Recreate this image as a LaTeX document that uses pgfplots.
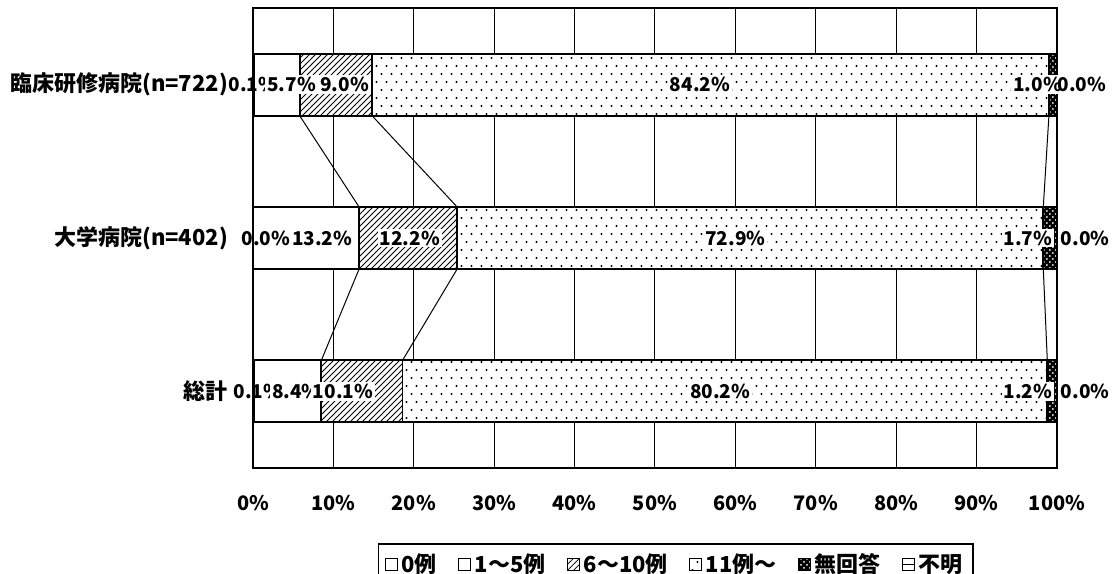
\documentclass[border=0pt]{standalone}
\usepackage{fontspec}
\setmainfont{Noto Sans CJK JP}
\usepackage{pgfplots}
\pgfplotsset{compat=1.18}
\usetikzlibrary{patterns}

% sparse staggered dots, like the Excel pattern
\pgfdeclarepatternformonly{xldots}{\pgfqpoint{0pt}{0pt}}{\pgfqpoint{5pt}{8pt}}{\pgfqpoint{5pt}{8pt}}{%
  \pgfpathcircle{\pgfqpoint{1.25pt}{2pt}}{0.55pt}
  \pgfpathcircle{\pgfqpoint{3.75pt}{6pt}}{0.55pt}
  \pgfusepath{fill}}

\tikzset{
  lbl/.style={font=\bfseries\fontsize{9.5}{11}\selectfont, inner sep=1pt},
  wlbl/.style={lbl, fill=white},
  sline/.style={black, line width=0.5pt, mark=none},
}

\begin{document}
\begin{tikzpicture}
\begin{axis}[
  name=ax,
  scale only axis, width=402pt, height=230pt,
  xbar stacked, bar width=31pt,
  xmin=0, xmax=100, ymin=0.5, ymax=3.5,
  xtick={0,10,...,100},
  xticklabels={0\%,10\%,20\%,30\%,40\%,50\%,60\%,70\%,80\%,90\%,100\%},
  ytick={1,2,3},
  yticklabels={総計,大学病院(n=402),臨床研修病院(n=722)},
  major tick length=0pt,
  xmajorgrids, grid style={black, line width=0.5pt},
  axis line style={black, line width=1pt},
  xticklabel style={font=\bfseries\fontsize{10}{12}\selectfont},
  yticklabel style={font=\bfseries\fontsize{11}{13}\selectfont},
  xticklabel shift=10pt, yticklabel shift=9pt,
  /pgf/number format/assume math mode=true,
  clip=false,
  every axis plot/.append style={draw=black, line width=0.9pt},
  legend columns=6,
  legend style={at={(rel axis cs:0.155,-0.163)}, anchor=north west,
    draw=black, line width=0.9pt, font=\bfseries\fontsize{11}{13}\selectfont,
    /tikz/every even column/.append style={column sep=8.5pt},
    /tikz/every odd column/.append style={column sep=0pt},
    inner ysep=3pt, inner xsep=3pt},
  legend image code/.code={\draw[#1, line width=0.5pt] (0pt,-3pt) rectangle (6pt,3pt);},
]
% rows: 1 = 総計, 2 = 大学病院, 3 = 臨床研修病院
\addplot[fill=white] coordinates {(0.1,3) (0.0,2) (0.1,1)};
\addlegendentry{0例}
\addplot[fill=white] coordinates {(5.7,3) (13.2,2) (8.4,1)};
\addlegendentry{1～5例}
\addplot[fill=white, postaction={pattern=north east lines}] coordinates {(9.0,3) (12.2,2) (10.1,1)};
\addlegendentry{6～10例}
\addplot[fill=white, postaction={pattern=xldots}] coordinates {(84.2,3) (72.9,2) (80.2,1)};
\addlegendentry{11例～}
\addplot[fill=black, postaction={pattern=crosshatch dots, pattern color=white}] coordinates {(1.0,3) (1.7,2) (1.2,1)};
\addlegendentry{無回答}
\addplot[fill=white, legend image code/.code={%
    \draw[draw=black, fill=white, line width=0.5pt] (0pt,-3pt) rectangle (6pt,3pt);
    \draw[draw=black, line width=0.5pt] (0pt,0pt) -- (6pt,0pt);}]
  coordinates {(0.0,3) (0.0,2) (0.0,1)};
\addlegendentry{不明}

\coordinate (bbsw) at (rel axis cs:-0.3147,-0.2304);
\coordinate (bbne) at (rel axis cs:1.0697,1.0174);
\end{axis}

% overlay: series lines between the bars and the data labels
\begin{axis}[
  scale only axis, width=402pt, height=230pt,
  xmin=0, xmax=100, ymin=0.5, ymax=3.5,
  hide axis, clip=false,
  unbounded coords=jump,
]
\addplot[sline] coordinates {(5.8,2.798) (13.2,2.202) (13.2,nan) (13.2,1.798) (8.5,1.202)};
\addplot[sline] coordinates {(14.8,2.798) (25.4,2.202) (25.4,nan) (25.4,1.798) (18.6,1.202)};
\addplot[sline] coordinates {(99.0,2.798) (98.3,2.202) (98.3,nan) (98.3,1.798) (98.8,1.202)};
\addplot[sline] coordinates {(100,2.798) (100,2.202) (100,nan) (100,1.798) (100,1.202)};

\node[lbl]  at (axis cs:0,3) {0.1\%};
\node[wlbl] at (axis cs:4.8,3) {5.7\%};
\node[wlbl] at (axis cs:11.4,3) {9.0\%};
\node[wlbl] at (axis cs:55.6,3) {84.2\%};
\node[wlbl] at (axis cs:97.6,3) {1.0\%};
\node[lbl]  at (axis cs:103.1,3) {0.0\%};

\node[lbl]  at (axis cs:1.6,2) {0.0\%};
\node[wlbl] at (axis cs:8.6,2) {13.2\%};
\node[wlbl] at (axis cs:19.5,2) {12.2\%};
\node[wlbl] at (axis cs:60.0,2) {72.9\%};
\node[wlbl] at (axis cs:96.4,2) {1.7\%};
\node[lbl]  at (axis cs:103.5,2) {0.0\%};

\node[lbl]  at (axis cs:0.6,1) {0.1\%};
\node[wlbl] at (axis cs:5.4,1) {8.4\%};
\node[wlbl] at (axis cs:11.2,1) {10.1\%};
\node[wlbl] at (axis cs:58.1,1) {80.2\%};
\node[wlbl] at (axis cs:96.4,1) {1.2\%};
\node[lbl]  at (axis cs:103.5,1) {0.0\%};
\end{axis}

\pgfresetboundingbox
\path[use as bounding box] (bbsw) rectangle (bbne);
\end{tikzpicture}
\end{document}
